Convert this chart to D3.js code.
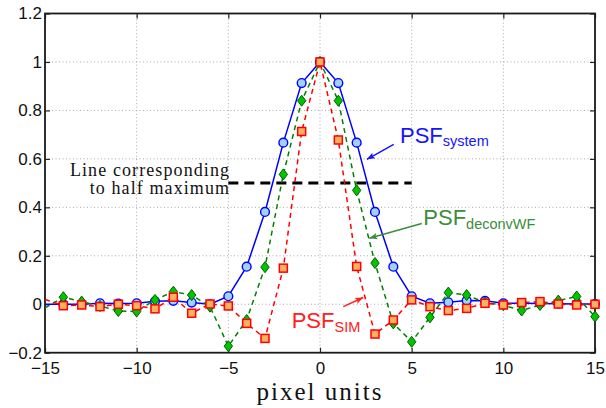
<!DOCTYPE html>
<html>
<head>
<meta charset="utf-8">
<script src="https://cdn.jsdelivr.net/npm/d3@7"></script>
<style>
  body { margin: 0; background: #fff; }
  text { font-family: "Liberation Sans", Arial, sans-serif; }
  text.serif { font-family: "Liberation Serif", "Times New Roman", serif; }
</style>
</head>
<body>
<div id="chart"></div>
<script>
// pixel offsets and the three PSF profiles
const pixels      = [-15, -14, -13, -12, -11, -10, -9, -8, -7, -6, -5, -4, -3, -2, -1, 0,
                      1, 2, 3, 4, 5, 6, 7, 8, 9, 10, 11, 12, 13, 14, 15];
const psfSystem   = [0.000, 0.000, 0.000, 0.004, 0.003, 0.004, 0.012, 0.014, 0.007, 0.000, 0.033,
                     0.155, 0.381, 0.667, 0.913, 1.000, 0.913, 0.667, 0.381, 0.155, 0.033,
                     0.004, 0.008, 0.015, 0.014, 0.004, 0.004, 0.003, 0.002, 0.001, 0.001];
const psfDeconvWF = [-0.015, 0.029, 0.011, -0.007, -0.028, -0.030, 0.018, 0.052, 0.038, -0.010, -0.173,
                     -0.065, 0.153, 0.536, 0.840, 1.000, 0.840, 0.470, 0.170, -0.079, -0.155,
                     -0.054, 0.048, 0.038, 0.007, -0.004, -0.026, -0.003, 0.015, 0.032, -0.051];
const psfSim      = [0.020, -0.006, -0.003, -0.010, 0.000, -0.006, -0.019, 0.029, -0.037, 0.001, -0.007,
                     -0.079, -0.141, 0.149, 0.713, 1.000, 0.678, 0.156, -0.123, -0.065, 0.018,
                     -0.010, -0.026, -0.017, 0.004, -0.003, 0.007, 0.011, 0.001, -0.003, 0.000];

const xTicks = [-15, -10, -5, 0, 5, 10, 15];
const yTicks = [-0.2, 0, 0.2, 0.4, 0.6, 0.8, 1, 1.2];
const halfMax = 0.5;
const halfMaxSpan = [-5, 5];
const halfMaxLabel = ["Line corresponding", "to half maximum"];

const width = 606, height = 408;

const x = d3.scaleLinear().domain([-15, 15]).range([45, 595]);
const y = d3.scaleLinear().domain([-0.2, 1.2]).range([352.7, 13.5]);

const svg = d3.select("#chart").append("svg")
    .attr("width", width)
    .attr("height", height);

svg.append("rect").attr("width", width).attr("height", height).attr("fill", "#fff");

const defs = svg.append("defs");
defs.append("clipPath").attr("id", "plotclip")
  .append("rect")
    .attr("x", x.range()[0]).attr("y", y.range()[1])
    .attr("width", x.range()[1] - x.range()[0])
    .attr("height", y.range()[0] - y.range()[1]);

["blue", "green", "red"].forEach(function(c) {
    const col = { blue: "#1414ff", green: "#3c8c3c", red: "#ff2020" }[c];
    defs.append("marker")
        .attr("id", "arrow-" + c)
        .attr("viewBox", "0 -5 10 10")
        .attr("refX", 10).attr("refY", 0)
        .attr("markerUnits", "userSpaceOnUse")
        .attr("markerWidth", 10).attr("markerHeight", 8)
        .attr("orient", "auto")
      .append("path")
        .attr("d", "M0,-4L10,0L0,4L2,0Z")
        .attr("fill", col);
});

// grid
const grid = svg.append("g").attr("stroke", "#a8a8a8").attr("stroke-dasharray", "1,2.5").attr("stroke-width", 1);
grid.selectAll(".gx").data(xTicks.slice(1, -1)).enter().append("line")
    .attr("x1", d => x(d)).attr("x2", d => x(d))
    .attr("y1", y.range()[0]).attr("y2", y.range()[1]);
grid.selectAll(".gy").data(yTicks.slice(1, -1)).enter().append("line")
    .attr("y1", d => y(d)).attr("y2", d => y(d))
    .attr("x1", x.range()[0]).attr("x2", x.range()[1]);

// axes (ticks pointing inward on all four sides)
const fmt = d3.format("~g");
const xAxis = svg.append("g")
    .attr("transform", "translate(0," + y.range()[0] + ")")
    .call(d3.axisBottom(x).tickValues(xTicks).tickFormat(fmt).tickSizeInner(-5).tickSizeOuter(0).tickPadding(9));
const yAxis = svg.append("g")
    .attr("transform", "translate(" + x.range()[0] + ",0)")
    .call(d3.axisLeft(y).tickValues(yTicks).tickFormat(fmt).tickSizeInner(-5).tickSizeOuter(0).tickPadding(3));
svg.append("g")
    .attr("transform", "translate(0," + y.range()[1] + ")")
    .call(d3.axisTop(x).tickValues(xTicks).tickFormat("").tickSizeInner(-5).tickSizeOuter(0));
svg.append("g")
    .attr("transform", "translate(" + x.range()[1] + ",0)")
    .call(d3.axisRight(y).tickValues(yTicks).tickFormat("").tickSizeInner(-5).tickSizeOuter(0));

svg.selectAll(".domain").remove();
svg.selectAll(".tick line").attr("stroke", "#222").attr("stroke-width", 1.2);
xAxis.selectAll("text").attr("font-size", 17).attr("fill", "#111");
yAxis.selectAll("text").attr("font-size", 17).attr("fill", "#111");

svg.append("rect")
    .attr("x", x.range()[0]).attr("y", y.range()[1])
    .attr("width", x.range()[1] - x.range()[0])
    .attr("height", y.range()[0] - y.range()[1])
    .attr("fill", "none").attr("stroke", "#1a1a1a").attr("stroke-width", 1.8);

// half maximum line
svg.append("line")
    .attr("x1", x(halfMaxSpan[0])).attr("x2", x(halfMaxSpan[1]))
    .attr("y1", y(halfMax)).attr("y2", y(halfMax))
    .attr("stroke", "#000").attr("stroke-width", 3).attr("stroke-dasharray", "10,6");

svg.selectAll(".halflabel").data(halfMaxLabel).enter().append("text")
    .attr("class", "serif halflabel")
    .attr("text-anchor", "end")
    .attr("font-size", 18)
    .attr("letter-spacing", 1.1)
    .attr("fill", "#111")
    .attr("x", x(-4.9))
    .attr("y", (d, i) => y(0.53) + i * 18.3)
    .text(d => d);

// series
const series = [
    { values: psfSystem,   color: "#0000ff", dash: null,  marker: "circle"  },
    { values: psfDeconvWF, color: "#008000", dash: "5,4", marker: "diamond" },
    { values: psfSim,      color: "#ff0000", dash: "5,4", marker: "square"  }
];

const line = d3.line().x(d => x(d.px)).y(d => y(d.v));

series.forEach(function(s) {
    const pts = pixels.map((p, i) => ({ px: p, v: s.values[i] }));
    svg.append("path")
        .datum(pts)
        .attr("clip-path", "url(#plotclip)")
        .attr("fill", "none")
        .attr("stroke", s.color)
        .attr("stroke-width", 1.5)
        .attr("stroke-dasharray", s.dash)
        .attr("d", line);

    const mk = svg.append("g").selectAll("g")
        .data(pts.filter(d => d.px > x.domain()[0]))
        .enter().append("g")
        .attr("transform", d => "translate(" + x(d.px) + "," + y(d.v) + ")");

    if (s.marker === "circle") {
        mk.append("circle").attr("r", 4.4)
            .attr("fill", "#9fd2ff").attr("stroke", "#0000ff").attr("stroke-width", 1.4);
    } else if (s.marker === "diamond") {
        mk.append("path").attr("d", "M0,-5.5L4.2,0L0,5.5L-4.2,0Z")
            .attr("fill", "#00c400").attr("stroke", "#006000").attr("stroke-width", 1);
    } else {
        mk.append("rect").attr("x", -4).attr("y", -4).attr("width", 8).attr("height", 8)
            .attr("fill", "#ffb060").attr("stroke", "#ff0000").attr("stroke-width", 1.5);
    }
});

// annotations
const notes = [
    { main: "PSF", sub: "system",   color: "#1414ff", tx: 4.364, ty: 0.664, from: [4.02, 0.66],  to: [2.56, 0.598], arrow: "blue",  dy: 3 },
    { main: "PSF", sub: "deconvWF", color: "#3c8c3c", tx: 5.636, ty: 0.327, from: [5.55, 0.333], to: [2.69, 0.272], arrow: "green", dy: 3.5 },
    { main: "PSF", sub: "SIM",      color: "#ff2020", tx: -1.545, ty: -0.100, from: [1.27, -0.01], to: [2.36, 0.028], arrow: "red", dy: 4 }
];

notes.forEach(function(n) {
    svg.append("line")
        .attr("x1", x(n.from[0])).attr("y1", y(n.from[1]))
        .attr("x2", x(n.to[0])).attr("y2", y(n.to[1]))
        .attr("stroke", n.color).attr("stroke-width", 1.5)
        .attr("marker-end", "url(#arrow-" + n.arrow + ")");
    const t = svg.append("text")
        .attr("x", x(n.tx)).attr("y", y(n.ty))
        .attr("fill", n.color)
        .attr("font-size", 22);
    t.append("tspan").text(n.main);
    t.append("tspan").attr("font-size", 14.5).attr("dy", n.dy).text(n.sub);
});

// x axis title
svg.append("text")
    .attr("class", "serif")
    .attr("x", x(0)).attr("y", 400)
    .attr("text-anchor", "middle")
    .attr("font-size", 25)
    .attr("letter-spacing", 2)
    .attr("fill", "#111")
    .text("pixel units");
</script>
</body>
</html>
